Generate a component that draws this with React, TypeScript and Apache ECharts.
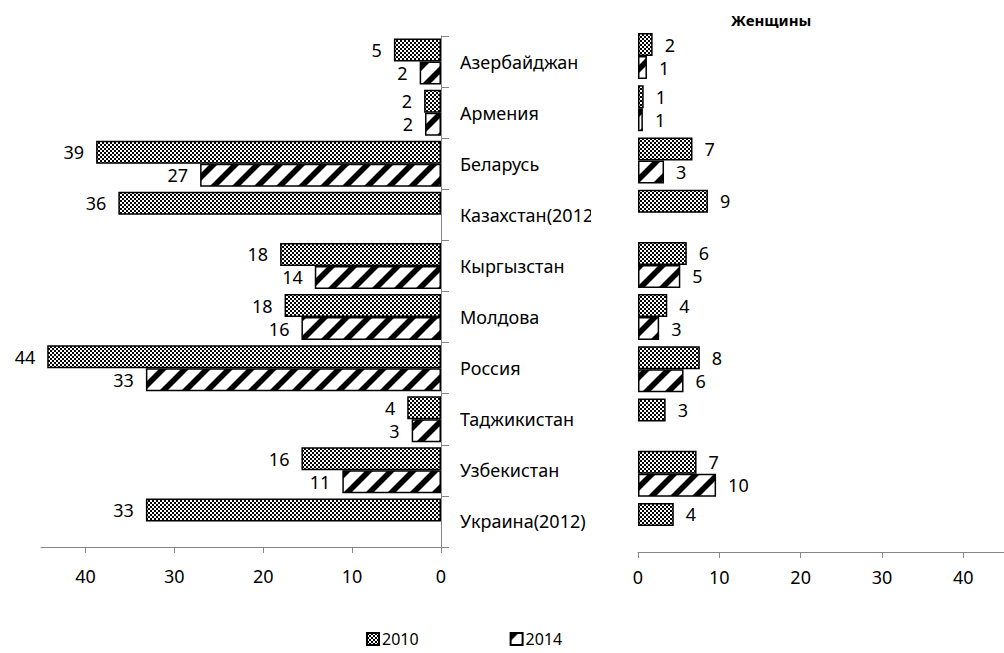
import React, { useEffect, useRef } from "react";
import * as echarts from "echarts";

const categories = [
  "Азербайджан",
  "Армения",
  "Беларусь",
  "Казахстан(2012)",
  "Кыргызстан",
  "Молдова",
  "Россия",
  "Таджикистан",
  "Узбекистан",
  "Украина(2012)",
];
const men2010 = [5.3, 1.9, 38.8, 36.3, 18.1, 17.6, 44.3, 3.8, 15.7, 33.2];
const men2014 = [2.4, 1.8, 27.1, null, 14.2, 15.7, 33.2, 3.3, 11.1, null];
const women2010 = [1.8, 0.7, 6.7, 8.6, 6.0, 3.6, 7.6, 3.4, 7.2, 4.4];
const women2014 = [1.1, 0.6, 3.2, null, 5.2, 2.6, 5.6, null, 9.6, null];
const tickValues = [0, 10, 20, 30, 40];
const seriesNames = ["2010", "2014"];
const rightTitle = "Женщины";

function makeChecker(): HTMLCanvasElement {
  const c = document.createElement("canvas");
  c.width = 4;
  c.height = 4;
  const ctx = c.getContext("2d")!;
  ctx.fillStyle = "#ffffff";
  ctx.fillRect(0, 0, 4, 4);
  ctx.fillStyle = "#000000";
  ctx.fillRect(0, 0, 2, 2);
  ctx.fillRect(2, 2, 2, 2);
  return c;
}

function makeStripes(): HTMLCanvasElement {
  const p = 22;
  const w = 8;
  const c = document.createElement("canvas");
  c.width = p;
  c.height = p;
  const ctx = c.getContext("2d")!;
  ctx.fillStyle = "#ffffff";
  ctx.fillRect(0, 0, p, p);
  ctx.fillStyle = "#000000";
  for (let k = -1; k <= 2; k++) {
    ctx.beginPath();
    ctx.moveTo(k * p, 0);
    ctx.lineTo(k * p + w, 0);
    ctx.lineTo(k * p + w - p, p);
    ctx.lineTo(k * p - p, p);
    ctx.closePath();
    ctx.fill();
  }
  return c;
}

const FONT = "Noto Sans";

export default function App() {
  const ref = useRef<HTMLDivElement>(null);
  useEffect(() => {
    if (!ref.current) return;
    const chart = echarts.init(ref.current, null, { renderer: "svg" });
    const checker = { image: makeChecker(), repeat: "repeat" } as any;
    const stripes = { image: makeStripes(), repeat: "repeat" } as any;
    const fmt = (p: any) => String(Math.round(p.value));
    const axisLineStyle = { color: "#868686", width: 1 };
    const labelStyle = { color: "#000", fontFamily: FONT, fontSize: 18 };

    const barCommon = {
      type: "bar",
      barWidth: 23,
      barGap: "0%",
    };

    chart.setOption({
      animation: false,
      backgroundColor: "#fff",
      title: {
        text: rightTitle,
        left: 731,
        top: 12,
        padding: 0,
        textStyle: { fontFamily: FONT, fontSize: 15, fontWeight: "bold", color: "#000" },
      },
      legend: {
        data: seriesNames,
        left: 366,
        top: 631,
        padding: 0,
        itemWidth: 12,
        itemHeight: 12,
        itemGap: 91,
        icon: "rect",
        textStyle: { fontFamily: FONT, fontSize: 16, color: "#000", padding: [0, 0, 0, -2] },
      },
      grid: [
        { left: 41, right: 563, top: 36, bottom: 106 },
        { left: 638, right: -9, top: 30, bottom: 101 },
      ],
      graphic: [
        {
          type: "rect",
          z: 100,
          shape: { x: 591, y: 200, width: 45, height: 30 },
          style: { fill: "#fff" },
          silent: true,
        },
      ],
      xAxis: [
        {
          gridIndex: 0,
          type: "value",
          inverse: true,
          min: 0,
          max: 45,
          axisLine: { show: true, lineStyle: axisLineStyle },
          axisTick: { show: true, length: 6, lineStyle: axisLineStyle, customValues: tickValues },
          axisLabel: { ...labelStyle, margin: 20, customValues: tickValues },
          splitLine: { show: false },
        },
        {
          gridIndex: 1,
          type: "value",
          min: 0,
          max: 45,
          axisLine: { show: true, lineStyle: axisLineStyle },
          axisTick: { show: true, length: 6, lineStyle: axisLineStyle, customValues: tickValues },
          axisLabel: { ...labelStyle, margin: 16, customValues: tickValues },
          splitLine: { show: false },
        },
      ],
      yAxis: [
        {
          gridIndex: 0,
          type: "category",
          data: categories,
          inverse: true,
          position: "right",
          axisLine: { show: true, lineStyle: axisLineStyle },
          axisTick: { show: true, length: 8, lineStyle: axisLineStyle },
          axisLabel: { ...labelStyle, margin: 19 },
        },
        {
          gridIndex: 1,
          type: "category",
          data: categories,
          inverse: true,
          show: false,
        },
      ],
      series: [
        {
          ...barCommon,
          name: seriesNames[0],
          xAxisIndex: 0,
          yAxisIndex: 0,
          data: men2010,
          itemStyle: { color: checker, borderColor: "#000", borderWidth: 1.5 },
          label: { show: true, position: "left", distance: 12, formatter: fmt, ...labelStyle },
        },
        {
          ...barCommon,
          name: seriesNames[1],
          xAxisIndex: 0,
          yAxisIndex: 0,
          data: men2014,
          itemStyle: { color: stripes, borderColor: "#000", borderWidth: 1.5 },
          label: { show: true, position: "left", distance: 12, formatter: fmt, ...labelStyle },
        },
        {
          ...barCommon,
          name: seriesNames[0],
          xAxisIndex: 1,
          yAxisIndex: 1,
          data: women2010,
          itemStyle: { color: checker, borderColor: "#000", borderWidth: 1.5 },
          label: { show: true, position: "right", distance: 12, formatter: fmt, ...labelStyle },
        },
        {
          ...barCommon,
          name: seriesNames[1],
          xAxisIndex: 1,
          yAxisIndex: 1,
          data: women2014,
          itemStyle: { color: stripes, borderColor: "#000", borderWidth: 1.5 },
          label: { show: true, position: "right", distance: 12, formatter: fmt, ...labelStyle },
        },
      ],
    });
    return () => chart.dispose();
  }, []);
  return (
    <div
      ref={ref}
      style={{ position: "absolute", left: 0, top: 0, width: 1004, height: 653 }}
    />
  );
}
